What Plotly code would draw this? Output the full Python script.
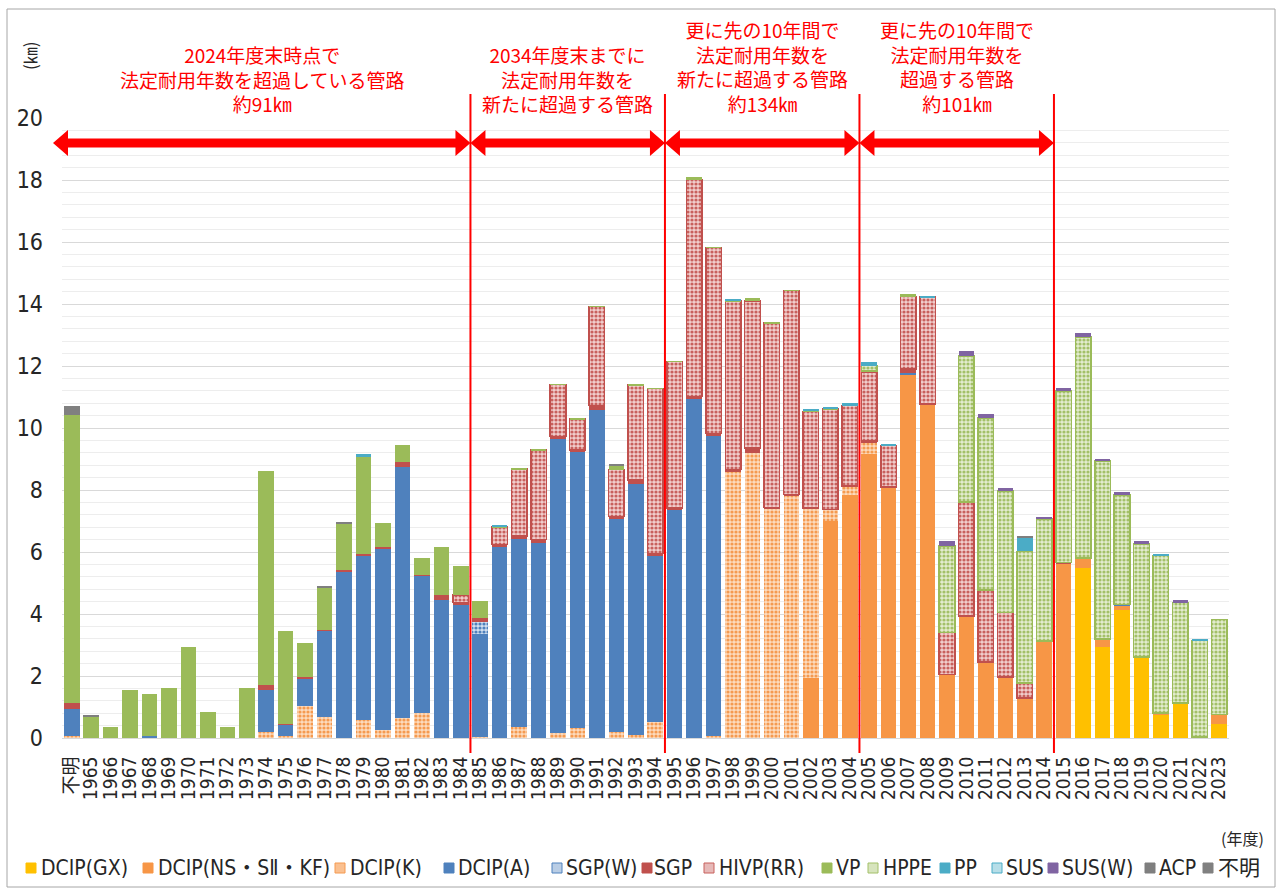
import plotly.graph_objects as go

# ---------------------------------------------------------------- data (km)
categories = ["不明"] + [str(y) for y in range(1965, 2024)]

dcip_gx = [0, 0, 0, 0, 0, 0, 0, 0, 0, 0,
           0, 0, 0, 0, 0, 0, 0, 0, 0, 0,
           0, 0, 0, 0, 0, 0, 0, 0, 0, 0,
           0, 0, 0, 0, 0, 0, 0, 0, 0, 0,
           0, 0, 0, 0, 0, 0, 0, 0, 0, 0,
           0, 0, 5.50, 2.94, 4.12, 2.62, 0.76, 1.13, 0.04, 0.46]
dcip_ns = [0, 0, 0, 0, 0, 0, 0, 0, 0, 0,
           0, 0, 0, 0, 0, 0, 0, 0, 0, 0,
           0, 0, 0, 0, 0, 0, 0, 0, 0, 0,
           0, 0, 0, 0, 0, 0, 0, 0, 1.92, 6.99,
           7.85, 9.17, 8.09, 11.73, 10.77, 2.05, 3.94, 2.45, 1.97, 1.29,
           3.13, 5.64, 0.31, 0.26, 0.16, 0, 0.05, 0, 0, 0.30]
dcip_k = [0.05, 0, 0, 0, 0, 0, 0, 0, 0, 0,
          0.18, 0.08, 1.02, 0.68, 0, 0.59, 0.25, 0.65, 0.81, 0,
          0, 0.03, 0, 0.34, 0, 0.16, 0.32, 0, 0.19, 0.10,
          0.51, 0, 0, 0.06, 8.57, 9.20, 7.41, 7.82, 5.50, 0.38,
          0.28, 0.36, 0, 0, 0, 0, 0, 0, 0, 0,
          0, 0, 0, 0, 0, 0, 0, 0, 0, 0]
dcip_a = [0.87, 0, 0, 0, 0.08, 0, 0, 0, 0, 0,
          1.38, 0.37, 0.89, 2.79, 5.36, 5.27, 5.87, 8.09, 4.44, 4.45,
          4.30, 3.33, 6.18, 6.09, 6.30, 9.49, 8.92, 10.57, 6.90, 8.10,
          5.38, 7.37, 10.94, 9.69, 0, 0, 0, 0, 0, 0,
          0, 0, 0, 0.03, 0, 0, 0, 0, 0, 0,
          0, 0, 0, 0, 0.03, 0, 0, 0, 0, 0]
sgp_w = [0, 0, 0, 0, 0, 0, 0, 0, 0, 0,
         0, 0, 0, 0, 0, 0, 0, 0, 0, 0,
         0, 0.38, 0, 0, 0, 0, 0, 0, 0, 0,
         0, 0, 0, 0, 0, 0, 0, 0, 0, 0,
         0, 0, 0, 0, 0, 0, 0, 0, 0, 0,
         0, 0, 0, 0, 0, 0, 0, 0, 0, 0]
sgp = [0.21, 0, 0, 0, 0, 0, 0, 0, 0, 0,
       0.16, 0, 0.05, 0, 0.06, 0.08, 0.04, 0.17, 0, 0.17,
       0.07, 0.12, 0.06, 0.09, 0.11, 0.07, 0.05, 0.16, 0.05, 0.12,
       0.06, 0.05, 0.07, 0.07, 0.09, 0.15, 0.03, 0.03, 0, 0,
       0, 0.05, 0, 0.14, 0, 0, 0, 0, 0, 0,
       0, 0.02, 0, 0, 0, 0, 0, 0, 0, 0]
hivp_rr = [0, 0, 0, 0, 0, 0, 0, 0, 0, 0,
           0, 0, 0, 0, 0, 0, 0, 0, 0, 0,
           0.25, 0, 0.57, 2.15, 2.88, 1.69, 1.00, 3.19, 1.52, 3.06,
           5.33, 4.73, 7.00, 6.00, 5.44, 4.75, 5.95, 6.58, 3.12, 3.24,
           2.59, 2.23, 1.35, 2.35, 3.45, 1.35, 3.67, 2.33, 2.08, 0.49,
           0, 0, 0, 0, 0, 0, 0, 0, 0, 0]
vp = [9.28, 0.68, 0.32, 1.51, 1.30, 1.60, 2.91, 0.83, 0.34, 1.60,
      6.86, 2.98, 1.09, 1.38, 1.49, 3.15, 0.74, 0.53, 0.52, 1.52,
      0.91, 0.52, 0, 0, 0, 0, 0, 0, 0.12, 0,
      0, 0, 0.07, 0, 0, 0.08, 0, 0, 0, 0,
      0, 0.03, 0, 0.06, 0, 0, 0, 0, 0, 0,
      0, 0, 0, 0, 0, 0, 0, 0, 0, 0]
hppe = [0, 0, 0, 0, 0, 0, 0, 0, 0, 0,
        0, 0, 0, 0, 0, 0, 0, 0, 0, 0,
        0, 0, 0, 0, 0, 0, 0, 0, 0, 0,
        0, 0, 0, 0, 0, 0, 0, 0, 0, 0,
        0, 0.17, 0, 0, 0, 2.80, 4.71, 5.54, 3.92, 4.24,
        3.94, 5.54, 7.13, 5.74, 3.53, 3.64, 5.07, 3.24, 3.11, 3.07]
pp = [0, 0, 0, 0, 0, 0, 0, 0, 0, 0,
      0, 0, 0, 0, 0, 0.06, 0, 0, 0, 0,
      0, 0, 0.05, 0, 0, 0, 0, 0, 0, 0,
      0, 0, 0, 0, 0.06, 0, 0, 0, 0.07, 0.07,
      0.08, 0.13, 0.05, 0, 0.05, 0, 0, 0, 0, 0.42,
      0, 0, 0, 0, 0, 0, 0.06, 0, 0.05, 0]
sus = [0, 0, 0, 0, 0, 0, 0, 0, 0, 0,
       0, 0, 0, 0, 0, 0, 0, 0, 0, 0,
       0, 0, 0, 0, 0, 0, 0, 0, 0, 0,
       0, 0, 0, 0, 0, 0, 0, 0, 0, 0,
       0, 0, 0, 0, 0, 0, 0, 0, 0, 0,
       0, 0, 0, 0, 0, 0, 0, 0, 0, 0]
sus_w = [0, 0, 0, 0, 0, 0, 0, 0, 0, 0,
         0, 0, 0, 0, 0, 0, 0, 0, 0, 0,
         0, 0, 0, 0, 0, 0, 0, 0, 0, 0,
         0, 0, 0, 0, 0, 0, 0, 0, 0, 0,
         0, 0, 0, 0, 0, 0.14, 0.15, 0.14, 0.09, 0,
         0.06, 0.09, 0.13, 0.07, 0.09, 0.08, 0, 0.07, 0, 0]
acp = [0, 0.05, 0, 0, 0, 0, 0, 0, 0, 0,
       0, 0, 0, 0.05, 0.05, 0, 0, 0, 0, 0,
       0, 0, 0, 0, 0, 0, 0, 0, 0.07, 0,
       0, 0, 0, 0, 0, 0, 0, 0, 0, 0,
       0, 0, 0, 0, 0, 0, 0, 0, 0, 0.09,
       0, 0, 0, 0, 0, 0, 0, 0, 0, 0]
unknown = [0.30, 0, 0, 0, 0, 0, 0, 0, 0, 0,
           0, 0, 0, 0, 0, 0, 0, 0, 0, 0,
           0, 0, 0, 0, 0, 0, 0, 0, 0, 0,
           0, 0, 0, 0, 0, 0, 0, 0, 0, 0,
           0, 0, 0, 0, 0, 0, 0, 0, 0, 0,
           0, 0, 0, 0, 0, 0, 0, 0, 0, 0]

series_names = ["DCIP(GX)", "DCIP(NS・SⅡ・KF)", "DCIP(K)", "DCIP(A)", "SGP(W)", "SGP",
                "HIVP(RR)", "VP", "HPPE", "PP", "SUS", "SUS(W)", "ACP", "不明"]
series_values = [dcip_gx, dcip_ns, dcip_k, dcip_a, sgp_w, sgp, hivp_rr, vp, hppe,
                 pp, sus, sus_w, acp, unknown]

# group boundaries (last fiscal year of each group) and their captions
group_last = ["1984", "1994", "2004", "2014"]
group_text = [
    "2024年度末時点で<br>法定耐用年数を超過している管路<br>約91㎞",
    "2034年度末までに<br>法定耐用年数を<br>新たに超過する管路",
    "更に先の10年間で<br>法定耐用年数を<br>新たに超過する管路<br>約134㎞",
    "更に先の10年間で<br>法定耐用年数を<br>超過する管路<br>約101㎞",
]

# ---------------------------------------------------------------- styles
# (solid color, pattern fg, pattern bg, outline color)
styles = {
    "DCIP(GX)":        ("#FFC000", None, None, None),
    "DCIP(NS・SⅡ・KF)": ("#F79646", None, None, None),
    "DCIP(K)":         ("#FAC090", "#F59A50", "#FDDCBF", None),
    "DCIP(A)":         ("#4F81BD", None, None, None),
    "SGP(W)":          ("#B9CDE5", "#4F81BD", "#D3E0F0", None),
    "SGP":             ("#C0504D", None, None, None),
    "HIVP(RR)":        ("#E6B9B8", "#C8605D", "#F2CFCE", "#C0504D"),
    "VP":              ("#9BBB59", None, None, None),
    "HPPE":            ("#D7E4BD", "#A3C068", "#E4EDD0", "#9BBB59"),
    "PP":              ("#4BACC6", None, None, None),
    "SUS":             ("#B7DEE8", "#4BACC6", "#D4ECF2", None),
    "SUS(W)":          ("#8064A2", None, None, None),
    "ACP":             ("#7F7F7F", None, None, None),
    "不明":             ("#808080", None, None, None),
}

NARROW = "Liberation Sans Narrow, DejaVu Sans Condensed, Noto Sans CJK JP, sans-serif"
CJK = "Noto Sans CJK JP, sans-serif"
TEXT = "#262626"

W, H = 1287, 890
L, R, T, B = 62, 1229, 118, 738          # plot area in pixels


def fx(px):
    return (px - L) / (R - L)


def fy(py):
    return (B - py) / (B - T)


fig = go.Figure()
for name, vals in zip(series_names, series_values):
    solid, fg, bg, edge = styles[name]
    marker = dict(color=solid, line=dict(width=0))
    if fg:
        marker["pattern"] = dict(shape=".", fgcolor=fg, bgcolor=bg, size=4,
                                 solidity=0.5, fillmode="replace")
    if edge:
        marker["line"] = dict(color=edge, width=1.5)
    fig.add_trace(go.Bar(x=categories, y=vals, name=name, marker=marker,
                         showlegend=False))

shapes = []
annotations = []

# outer frame
shapes.append(dict(type="rect", xref="paper", yref="paper",
                   x0=fx(7), x1=fx(1275), y0=fy(887), y1=fy(9),
                   line=dict(color="#A6A6A6", width=1), fillcolor="rgba(0,0,0,0)",
                   layer="below"))

# group dividers, double arrows and captions
n = len(categories)
bounds = [(categories.index(c) + 1) / n for c in group_last]
starts = [fx(53)] + bounds[:-1]
arrow_y = fy(143)
head_len = 15 / (R - L)
head_h = 13 / (B - T)
body_h = 4.5 / (B - T)

for b in bounds:
    shapes.append(dict(type="line", xref="paper", yref="paper",
                       x0=b, x1=b, y0=fy(753), y1=fy(94),
                       line=dict(color="#FF0000", width=2)))

for x0, x1, txt in zip(starts, bounds, group_text):
    pts = [(x0, arrow_y), (x0 + head_len, arrow_y + head_h),
           (x0 + head_len, arrow_y + body_h), (x1 - head_len, arrow_y + body_h),
           (x1 - head_len, arrow_y + head_h), (x1, arrow_y),
           (x1 - head_len, arrow_y - head_h), (x1 - head_len, arrow_y - body_h),
           (x0 + head_len, arrow_y - body_h), (x0 + head_len, arrow_y - head_h)]
    path = "M" + " L".join(f"{px:.5f},{py:.5f}" for px, py in pts) + " Z"
    shapes.append(dict(type="path", xref="paper", yref="paper", path=path,
                       fillcolor="#FF0000", line=dict(width=0)))
    annotations.append(dict(xref="paper", yref="paper", x=(x0 + x1) / 2,
                            y=fy(119), xanchor="center", yanchor="bottom",
                            text=txt, showarrow=False, align="center",
                            font=dict(family=CJK, size=19, color="#FF0000")))

# axis captions
annotations.append(dict(xref="paper", yref="paper", x=fx(30), y=fy(56),
                        xanchor="center", yanchor="middle",
                        text="(㎞)", textangle=-90, showarrow=False,
                        font=dict(family=CJK, size=17, color=TEXT)))
annotations.append(dict(xref="paper", yref="paper", x=fx(1266), y=fy(838),
                        xanchor="right", yanchor="middle", text="(年度)",
                        showarrow=False,
                        font=dict(family=CJK, size=16, color=TEXT)))

# legend row
legend_square_x = [26, 143, 335, 444, 552, 642, 704, 822, 868, 940, 992, 1048, 1145, 1203]
legend_text_x = [39, 156, 348, 456, 564, 652, 717, 834, 881, 952, 1004, 1060, 1157, 1216]
legend_y = 868
sq = 10
for name, sx, tx in zip(series_names, legend_square_x, legend_text_x):
    solid, fg, bg, edge = styles[name]
    shapes.append(dict(type="rect", xref="paper", yref="paper",
                       x0=fx(sx), x1=fx(sx + sq),
                       y0=fy(legend_y + sq / 2), y1=fy(legend_y - sq / 2),
                       fillcolor=solid, line=dict(width=1, color=fg or solid)))
    annotations.append(dict(xref="paper", yref="paper", x=fx(tx), y=fy(legend_y),
                            xanchor="left", yanchor="middle", text=name,
                            showarrow=False,
                            font=dict(family=NARROW, size=21, color=TEXT)))

fig.update_layout(
    width=W, height=H,
    margin=dict(l=L, r=W - R, t=T, b=H - B, pad=0),
    paper_bgcolor="white", plot_bgcolor="white",
    barmode="stack", bargap=0.2,
    shapes=shapes, annotations=annotations,
    xaxis=dict(type="category", categoryorder="array", categoryarray=categories,
               tickmode="array", tickvals=categories, ticktext=categories,
               tickangle=-90, tickfont=dict(family=NARROW, size=19, color=TEXT),
               showgrid=False, showline=True, linecolor="#D9D9D9", linewidth=1,
               ticks="", ticklabelstandoff=10),
    yaxis=dict(range=[0, 20], dtick=2, tickfont=dict(family=NARROW, size=23, color=TEXT),
               showgrid=True, gridcolor="#D9D9D9", gridwidth=1,
               minor=dict(dtick=0.4, showgrid=True, gridcolor="#EDEDED", gridwidth=1),
               zeroline=False, showline=False, ticks="", ticklabelstandoff=18),
)

fig.write_html("out.html")
